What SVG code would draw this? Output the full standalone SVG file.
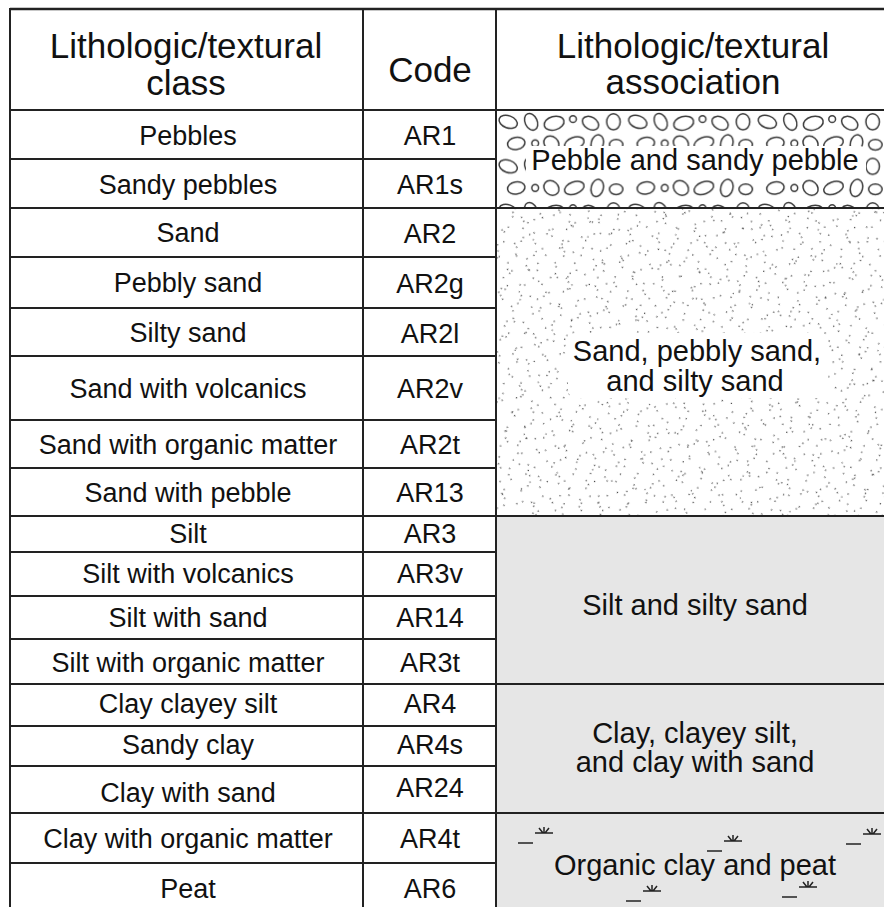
<svg xmlns="http://www.w3.org/2000/svg" width="884" height="907" viewBox="0 0 884 907">
<style>
.t{font-family:"Liberation Sans",Arial,sans-serif;font-size:27px;fill:#111;text-anchor:middle}
.h{font-size:35px}
.a{font-size:29px}
.ln{stroke:#222;stroke-width:2;fill:none}
.peb{fill:none;stroke:#383838;stroke-width:1.1}
</style>
<defs>
<pattern id="pebbles" patternUnits="userSpaceOnUse" x="0" y="0" width="96" height="33" patternTransform="translate(496 111) scale(1.35)">
<g class="peb">
<ellipse cx="9" cy="8" rx="7" ry="4.5" transform="rotate(20 9 8)"/>
<ellipse cx="26" cy="8" rx="4.5" ry="6.5" transform="rotate(-25 26 8)"/>
<ellipse cx="43" cy="9" rx="7.5" ry="5" transform="rotate(-15 43 9)"/>
<circle cx="57" cy="6" r="2.5"/>
<ellipse cx="70" cy="9" rx="6.5" ry="4.5" transform="rotate(30 70 9)"/>
<ellipse cx="87" cy="8" rx="5" ry="6"/>
<ellipse cx="15" cy="24" rx="6.5" ry="4.5" transform="rotate(-10 15 24)"/>
<circle cx="29" cy="24" r="2.5"/>
<ellipse cx="41" cy="24" rx="6" ry="5" transform="rotate(40 41 24)"/>
<ellipse cx="58" cy="24" rx="7.5" ry="4.5" transform="rotate(-20 58 24)"/>
<ellipse cx="75" cy="24" rx="4.5" ry="6.5" transform="rotate(15 75 24)"/>
<ellipse cx="89" cy="25" rx="5" ry="4"/>
</g>
</pattern>
<path id="dotset" stroke="#444" stroke-width="1.05" stroke-linecap="round" fill="none" d="M0.5 3.5h.01M12.5 .5h.01M24.5 5.5h.01M28.5 2.5h.01M40.5 7.5h.01M52.5 4.5h.01M56.5 1.5h.01M68.5 6.5h.01M7.5 14.5h.01M11.5 11.5h.01M23.5 16.5h.01M27.5 13.5h.01M39.5 10.5h.01M51.5 15.5h.01M55.5 12.5h.01M67.5 9.5h.01M6.5 25.5h.01M10.5 22.5h.01M22.5 19.5h.01M34.5 24.5h.01M38.5 21.5h.01M50.5 18.5h.01M54.5 23.5h.01M66.5 20.5h.01M5.5 28.5h.01M9.5 33.5h.01M21.5 30.5h.01M33.5 27.5h.01M37.5 32.5h.01M49.5 29.5h.01M61.5 34.5h.01M65.5 31.5h.01M4.5 39.5h.01M16.5 36.5h.01M20.5 41.5h.01M32.5 38.5h.01M36.5 43.5h.01M48.5 40.5h.01M60.5 37.5h.01M64.5 42.5h.01M3.5 50.5h.01M15.5 47.5h.01M19.5 52.5h.01M31.5 49.5h.01M43.5 46.5h.01M47.5 51.5h.01M59.5 48.5h.01M63.5 45.5h.01M2.5 61.5h.01M14.5 58.5h.01M18.5 55.5h.01M30.5 60.5h.01M42.5 57.5h.01M46.5 54.5h.01M58.5 59.5h.01M70.5 56.5h.01M1.5 64.5h.01M13.5 69.5h.01M25.5 66.5h.01M29.5 63.5h.01M41.5 68.5h.01M45.5 65.5h.01M57.5 70.5h.01M69.5 67.5h.01"/>
<pattern id="dotsA" patternUnits="userSpaceOnUse" x="0" y="0" width="72" height="72" patternTransform="translate(496 208) rotate(12) scale(1.4)">
<use href="#dotset"/>
</pattern>
<pattern id="dotsB" patternUnits="userSpaceOnUse" x="0" y="0" width="72" height="72" patternTransform="translate(530 230) rotate(-47) scale(1.4)">
<use href="#dotset"/>
</pattern>
<g id="marsh" fill="none" stroke="#222" stroke-width="1.5">
<path d="M-26 10h15"/>
<path d="M-9 0h18M0 0v-6M-1 0l-4-5M1 0l4-5"/>
</g>
</defs>

<rect width="884" height="907" fill="#fff"/>

<g id="assoc-fills">
<rect x="496" y="110" width="388" height="98" fill="url(#pebbles)"/>
<rect x="526" y="146" width="340" height="32" rx="6" fill="#fff"/>
<rect x="496" y="208" width="388" height="308" fill="url(#dotsA)"/>
<rect x="496" y="208" width="388" height="308" fill="url(#dotsB)"/>
<rect x="568" y="333" width="260" height="65" rx="8" fill="#fff"/>
<rect x="496" y="516" width="388" height="391" fill="#e6e6e6"/>
</g>

<g id="organic-symbols">
<use href="#marsh" x="544" y="833"/>
<use href="#marsh" x="733" y="841"/>
<use href="#marsh" x="872" y="834"/>
<use href="#marsh" x="652" y="891"/>
<use href="#marsh" x="808" y="887"/>
</g>

<g id="connectors" class="ln">
<path d="M10 9H884" stroke-width="2.5"/>
<path d="M10 8V907M363 9V907M496 9V907"/>
<path d="M10 110H884M10 208H884M10 516H884M10 684H884M10 813H884"/>
<path d="M10 159H496M10 257H496M10 308H496M10 356H496M10 420H496M10 468H496M10 552H496M10 596H496M10 639H496M10 726H496M10 766H496M10 863H496"/>
</g>

<g id="header">
<text class="t h" x="186" y="58">Lithologic/textural</text>
<text class="t h" x="186" y="95">class</text>
<text class="t h" x="430" y="82">Code</text>
<text class="t h" x="693" y="58">Lithologic/textural</text>
<text class="t h" x="693" y="94">association</text>
</g>

<g id="row-AR1"><text class="t" x="188" y="145">Pebbles</text><text class="t" x="430" y="145">AR1</text></g>
<g id="row-AR1s"><text class="t" x="188" y="194">Sandy pebbles</text><text class="t" x="430" y="194">AR1s</text></g>
<g id="row-AR2"><text class="t" x="188" y="242">Sand</text><text class="t" x="430" y="243">AR2</text></g>
<g id="row-AR2g"><text class="t" x="188" y="292">Pebbly sand</text><text class="t" x="430" y="293">AR2g</text></g>
<g id="row-AR2l"><text class="t" x="188" y="342">Silty sand</text><text class="t" x="430" y="343">AR2l</text></g>
<g id="row-AR2v"><text class="t" x="188" y="398">Sand with volcanics</text><text class="t" x="430" y="398">AR2v</text></g>
<g id="row-AR2t"><text class="t" x="188" y="454">Sand with organic matter</text><text class="t" x="430" y="454">AR2t</text></g>
<g id="row-AR13"><text class="t" x="188" y="502">Sand with pebble</text><text class="t" x="430" y="502">AR13</text></g>
<g id="row-AR3"><text class="t" x="188" y="543">Silt</text><text class="t" x="430" y="543">AR3</text></g>
<g id="row-AR3v"><text class="t" x="188" y="583">Silt with volcanics</text><text class="t" x="430" y="583">AR3v</text></g>
<g id="row-AR14"><text class="t" x="188" y="627">Silt with sand</text><text class="t" x="430" y="627">AR14</text></g>
<g id="row-AR3t"><text class="t" x="188" y="672">Silt with organic matter</text><text class="t" x="430" y="672">AR3t</text></g>
<g id="row-AR4"><text class="t" x="188" y="713">Clay clayey silt</text><text class="t" x="430" y="713">AR4</text></g>
<g id="row-AR4s"><text class="t" x="188" y="754">Sandy clay</text><text class="t" x="430" y="754">AR4s</text></g>
<g id="row-AR24"><text class="t" x="188" y="802">Clay with sand</text><text class="t" x="430" y="797">AR24</text></g>
<g id="row-AR4t"><text class="t" x="188" y="848">Clay with organic matter</text><text class="t" x="430" y="848">AR4t</text></g>
<g id="row-AR6"><text class="t" x="188" y="898">Peat</text><text class="t" x="430" y="898">AR6</text></g>

<g id="assoc-pebble"><text class="t a" x="695" y="170">Pebble and sandy pebble</text></g>
<g id="assoc-sand"><text class="t a" x="697" y="361">Sand, pebbly sand,</text><text class="t a" x="695" y="391">and silty sand</text></g>
<g id="assoc-silt"><text class="t a" x="695" y="615">Silt and silty sand</text></g>
<g id="assoc-clay"><text class="t a" x="695" y="743">Clay, clayey silt,</text><text class="t a" x="695" y="772">and clay with sand</text></g>
<g id="assoc-organic"><text class="t a" x="695" y="875">Organic clay and peat</text></g>
</svg>
